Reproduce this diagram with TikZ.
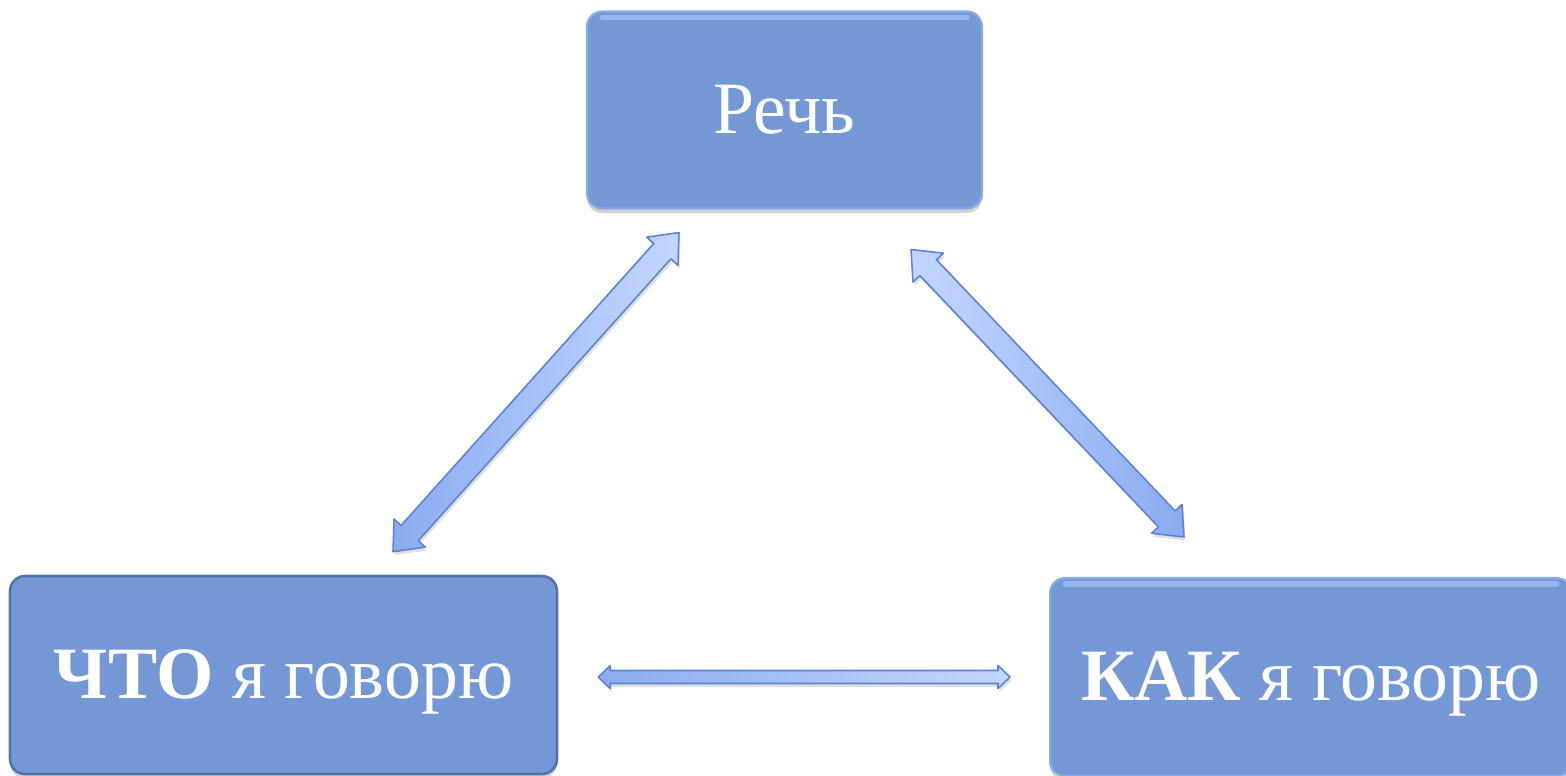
\documentclass[tikz,border=0pt]{standalone}
\usepackage{fontspec}
\setmainfont{Liberation Serif}
\usetikzlibrary{calc,shadows}
\definecolor{boxblue}{RGB}{116,151,214}
\definecolor{boxrim}{RGB}{84,115,172}
\definecolor{boxedge}{RGB}{138,172,230}
\definecolor{gloss}{RGB}{160,192,242}
\definecolor{arrowrim}{RGB}{92,132,214}
\definecolor{arrowdark}{RGB}{138,172,240}
\definecolor{arrowlight}{RGB}{196,214,255}
\newcommand{\blockarrow}[6][]{%
  \coordinate (#2-h) at ($(#2)!#6!(#3)$);
  \coordinate (#3-h) at ($(#3)!#6!(#2)$);
  \path[arrowbody,#1] (#2)
    -- ($(#2-h)!#5!90:(#3)$) -- ($(#2-h)!#4!90:(#3)$)
    -- ($(#3-h)!#4!-90:(#2)$) -- ($(#3-h)!#5!-90:(#2)$)
    -- (#3)
    -- ($(#3-h)!#5!90:(#2)$) -- ($(#3-h)!#4!90:(#2)$)
    -- ($(#2-h)!#4!-90:(#3)$) -- ($(#2-h)!#5!-90:(#3)$)
    -- cycle;}

\begin{document}
\begin{tikzpicture}[x=0.02cm, y=-0.02cm,
    boxbase/.style={rectangle, rounded corners=0.3cm, fill=boxblue, text=white,
      font=\fontsize{42}{49}\selectfont, text height=27pt, text depth=0pt,
      minimum height=3.94cm,
      drop shadow={shadow xshift=0pt, shadow yshift=-0.09cm, opacity=0.35}},
    glossbox/.style={boxbase, draw=boxedge, line width=1.2pt,
      path picture={\draw[gloss, line width=3pt, line cap=round, opacity=0.8]
        ([xshift=0.3cm, yshift=-0.12cm]path picture bounding box.north west) --
        ([xshift=-0.3cm, yshift=-0.12cm]path picture bounding box.north east);}},
    flatbox/.style={boxbase, draw=boxrim, line width=1.5pt},
    arrowbody/.style={draw=arrowrim, line width=0.9pt, line join=round,
      left color=arrowdark, right color=arrowlight,
      drop shadow={shadow xshift=0.03cm, shadow yshift=-0.07cm, opacity=0.25}}]

    \useasboundingbox (0,0) rectangle (1566,775);

    \node[glossbox, minimum width=7.9cm] (rech) at (784.5,110) {Речь};
    \node[flatbox, minimum width=10.94cm, minimum height=3.96cm] (chto) at (283.5,675) {\textbf{ЧТО} я говорю};
    \node[glossbox, minimum width=10.44cm, minimum height=3.96cm] (kak) at (1311,677) {\textbf{КАК} я говорю};

    \coordinate (la) at ($(chto.north)+(109.5,-23)$);
    \coordinate (lb) at ($(rech.south)+(-105.5,23)$);
    \coordinate (ra) at ($(rech.south)+(126.5,40)$);
    \coordinate (rb) at ($(kak.north)+(-127,-40)$);
    \coordinate (ha) at ($(chto.east)+(40,2)$);
    \coordinate (hb) at ($(kak.west)+(-39,0)$);

    \blockarrow{la}{lb}{0.23cm}{0.42cm}{0.5cm}
    \blockarrow[left color=arrowlight, right color=arrowdark]{ra}{rb}{0.23cm}{0.42cm}{0.5cm}
    \blockarrow{ha}{hb}{0.13cm}{0.23cm}{0.24cm}
\end{tikzpicture}
\end{document}
